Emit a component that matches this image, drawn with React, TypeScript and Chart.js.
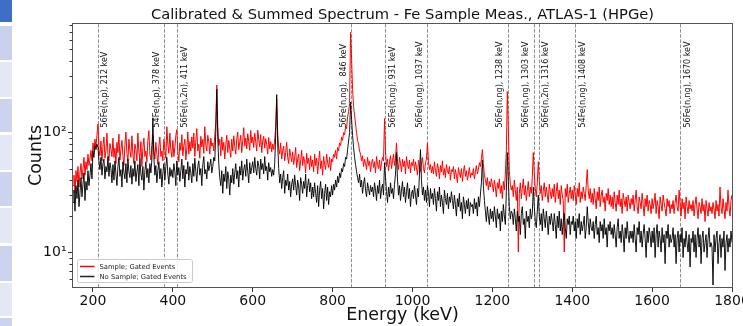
import React, { useEffect, useRef } from 'react';
import { Chart, registerables } from 'chart.js';

Chart.register(...registerables);

// ---- data (energy grid: 150 keV start, 2.5 keV per bin) ----
const START_KEV = 150;
const BIN_KEV = 2.5;

const sampleCounts = [
  36, 44, 31, 48, 39, 52, 35, 46, 55, 41,
  50, 62, 44, 57, 49, 66, 53, 60, 71, 58,
  82, 70, 88, 76, 95, 118, 72, 64, 85, 58,
  77, 92, 61, 70, 99, 66, 58, 81, 73, 63,
  90, 62, 74, 55, 83, 68, 97, 59, 72, 86,
  64, 53, 79, 101, 67, 58, 88, 71, 62, 94,
  66, 55, 80, 72, 58, 99, 68, 61, 84, 52,
  75, 90, 63, 70, 57, 86, 104, 66, 59, 78,
  95, 72, 60, 83, 66, 54, 77, 92, 63, 70,
  58, 88, 74, 61, 112, 80, 67, 99, 71, 62,
  86, 63, 75, 95, 106, 68, 57, 82, 71, 96,
  64, 78, 88, 59, 73, 101, 66, 84, 70, 92,
  74, 99, 63, 85, 108, 70, 80, 61, 93, 76,
  88, 67, 112, 79, 70, 95, 84, 66, 90, 77,
  82, 70, 96, 120, 250, 115, 78, 88, 64, 92,
  71, 83, 60, 79, 95, 68, 86, 73, 62, 88,
  70, 94, 77, 66, 89, 101, 72, 83, 95, 68,
  86, 110, 77, 90, 73, 98, 84, 71, 104, 82,
  92, 75, 99, 84, 70, 105, 88, 76, 96, 68,
  85, 93, 74, 89, 79, 66, 91, 73, 84, 69,
  80, 72, 88, 110, 190, 98, 74, 66, 82, 60,
  71, 77, 58, 68, 83, 62, 55, 73, 64, 57,
  69, 54, 62, 75, 51, 60, 66, 48, 58, 71,
  53, 63, 57, 46, 67, 55, 61, 49, 64, 52,
  59, 47, 66, 53, 61, 45, 57, 70, 50, 58,
  44, 63, 54, 49, 66, 56, 51, 62, 48, 60,
  57, 66, 62, 71, 60, 75, 70, 82, 78, 92,
  86, 100, 96, 112, 108, 135, 150, 175, 690, 420,
  230, 165, 140, 118, 100, 86, 80, 70, 66, 58,
  64, 52, 60, 55, 49, 62, 53, 58, 47, 56,
  60, 51, 57, 46, 63, 54, 50, 59, 48, 56,
  62, 58, 131, 70, 52, 60, 48, 57, 64, 50,
  58, 66, 53, 61, 82, 57, 49, 62, 55, 47,
  60, 52, 58, 45, 63, 54, 50, 59, 46, 56,
  53, 60, 48, 57, 51, 44, 59, 52, 47, 55,
  62, 50, 46, 56, 60, 82, 57, 49, 54, 46,
  52, 45, 57, 48, 43, 55, 50, 41, 53, 47,
  58, 44, 50, 42, 54, 48, 45, 52, 40, 49,
  47, 52, 41, 49, 44, 38, 51, 46, 42, 50,
  39, 47, 53, 43, 48, 40, 45, 51, 42, 46,
  44, 50, 41, 47, 53, 45, 49, 56, 52, 60,
  72, 55, 44, 40, 36, 42, 33, 39, 35, 41,
  37, 32, 40, 35, 29, 38, 34, 41, 31, 36,
  28, 39, 33, 45, 70, 220, 110, 48, 37, 33,
  36, 29, 40, 33, 27, 35, 10, 31, 38, 28,
  34, 41, 30, 36, 27, 33, 39, 29, 35, 31,
  42, 68, 45, 34, 29, 38, 57, 40, 31, 36,
  27, 33, 38, 29, 35, 30, 26, 37, 32, 28,
  34, 29, 37, 26, 32, 38, 28, 33, 25, 36,
  30, 27, 10, 34, 29, 37, 26, 31, 35, 28,
  33, 27, 36, 30, 25, 34, 29, 38, 26, 32,
  28, 35, 31, 27, 36, 49, 33, 28, 34, 26,
  31, 25, 34, 28, 23, 32, 27, 35, 24, 30,
  33, 26, 29, 22, 31, 27, 34, 25, 30, 24,
  29, 23, 32, 26, 22, 30, 25, 33, 24, 28,
  21, 31, 27, 24, 29, 22, 30, 26, 23, 28,
  25, 30, 22, 27, 33, 24, 21, 29, 26, 23,
  31, 25, 20, 28, 24, 30, 22, 27, 25, 21,
  28, 23, 26, 31, 21, 27, 24, 19, 29, 25,
  22, 30, 26, 23, 20, 28, 24, 27, 21, 25,
  23, 27, 21, 26, 30, 24, 22, 33, 25, 20,
  28, 23, 26, 19, 29, 24, 21, 27, 23, 25,
  22, 27, 20, 25, 29, 23, 19, 26, 24, 21,
  28, 22, 25, 18, 27, 23, 20, 26, 22, 24,
  21, 26, 23, 19, 27, 22, 25, 20, 35, 24,
  21, 28, 23, 19, 26, 22, 33, 24, 20, 27,
  30,
];

const noSampleCounts = [
  26, 33, 22, 36, 28, 40, 24, 31, 42, 29,
  37, 46, 27, 39, 33, 48, 36, 44, 55, 41,
  70, 62, 78, 72, 80, 75, 58, 49, 62, 44,
  55, 60, 41, 52, 47, 63, 43, 56, 50, 38,
  54, 40, 58, 45, 36, 52, 62, 43, 49, 35,
  57, 46, 41, 55, 38, 60, 47, 42, 53, 37,
  50, 43, 58, 39, 47, 54, 36, 61, 45, 40,
  52, 33, 48, 57, 42, 50, 38, 55, 46, 60,
  133, 62, 44, 53, 38, 48, 57, 41, 50, 35,
  46, 55, 40, 52, 62, 45, 37, 51, 43, 49,
  42, 55, 47, 36, 58, 44, 51, 39, 48, 60,
  41, 53, 35, 49, 45, 57, 40, 52, 46, 38,
  55, 43, 61, 47, 39, 52, 58, 44, 50, 36,
  54, 63, 45, 49, 41, 57, 48, 53, 60, 46,
  52, 62, 58, 100, 230, 90, 55, 42, 36, 48,
  31, 45, 39, 52, 34, 47, 41, 30, 44, 38,
  50, 37, 46, 55, 41, 48, 35, 52, 44, 58,
  40, 49, 54, 43, 60, 47, 38, 56, 45, 51,
  57, 46, 62, 50, 44, 58, 53, 41, 60, 49,
  55, 45, 63, 48, 52, 40, 56, 47, 51, 43,
  49, 44, 55, 95, 208, 80, 50, 38, 45, 34,
  42, 48, 31, 40, 36, 45, 33, 39, 29, 37,
  41, 33, 44, 36, 30, 40, 35, 27, 42, 37,
  31, 39, 34, 45, 29, 36, 41, 32, 38, 28,
  35, 29, 38, 31, 26, 36, 24, 33, 39, 28,
  34, 23, 31, 37, 27, 35, 25, 32, 29, 36,
  30, 37, 33, 40, 35, 43, 38, 46, 42, 50,
  47, 55, 52, 62, 60, 72, 85, 100, 180, 130,
  95, 75, 62, 54, 47, 42, 38, 45, 35, 40,
  31, 37, 42, 33, 29, 38, 34, 30, 36, 32,
  35, 29, 38, 33, 27, 36, 31, 40, 28, 34,
  37, 30, 56, 42, 32, 26, 35, 29, 38, 31,
  34, 28, 37, 45, 68, 40, 30, 36, 27, 33,
  39, 29, 35, 26, 32, 38, 28, 34, 24, 31,
  33, 28, 36, 30, 25, 34, 29, 45, 72, 40,
  30, 35, 27, 33, 26, 36, 31, 24, 34, 28,
  31, 25, 34, 28, 22, 32, 27, 35, 24, 30,
  26, 21, 33, 28, 25, 31, 23, 29, 26, 32,
  27, 23, 30, 25, 20, 28, 24, 31, 22, 26,
  19, 29, 25, 21, 27, 23, 28, 20, 26, 24,
  25, 21, 28, 23, 26, 20, 29, 24, 30, 38,
  59, 36, 27, 22, 18, 24, 20, 17, 23, 19,
  22, 18, 24, 20, 16, 23, 19, 21, 15, 22,
  18, 25, 20, 17, 32, 68, 40, 24, 19, 22,
  21, 17, 23, 19, 15, 22, 18, 20, 14, 21,
  24, 17, 19, 13, 22, 18, 20, 16, 23, 19,
  21, 35, 24, 18, 16, 22, 30, 20, 17, 21,
  15, 23, 19, 16, 22, 18, 14, 20, 17, 21,
  18, 15, 21, 17, 13, 20, 16, 22, 15, 19,
  14, 18, 21, 16, 13, 19, 17, 20, 14, 18,
  17, 20, 15, 18, 13, 19, 16, 21, 14, 18,
  15, 17, 20, 13, 16, 24, 18, 14, 19, 16,
  15, 18, 13, 17, 20, 14, 16, 12, 18, 15,
  17, 13, 19, 14, 16, 11, 17, 15, 18, 14,
  16, 13, 17, 14, 11, 16, 19, 13, 15, 12,
  17, 14, 10, 16, 13, 18, 14, 12, 15, 13,
  15, 12, 17, 13, 10, 16, 14, 18, 12, 15,
  11, 14, 17, 13, 9, 15, 12, 16, 14, 11,
  15, 12, 16, 9, 14, 17, 11, 15, 13, 10,
  16, 12, 14, 8, 15, 13, 17, 11, 14, 12,
  13, 16, 11, 14, 8, 13, 15, 10, 14, 12,
  16, 9, 13, 11, 15, 12, 10, 14, 7.5, 13,
  12, 15, 10, 14, 9, 13, 16, 11, 14, 8,
  13, 15, 10, 12, 14, 9, 13, 16, 11, 12,
  11, 5.3, 14, 10, 13, 15, 8, 12, 14, 9,
  13, 11, 15, 7, 12, 14, 10, 13, 11, 15,
  12,
];

const lineEnergies = [212, 378, 411, 846, 931, 1037, 1238, 1303, 1316, 1408, 1670];
const lineLabels = [
  '56Fe(n,p), 212 keV',
  '54Fe(n,p), 378 keV',
  '56Fe(n,2n), 411 keV',
  '56Fe(n,ng),  846 keV',
  '56Fe(n,ng), 931 keV',
  '56Fe(n,ng), 1037 keV',
  '56Fe(n,ng), 1238 keV',
  '56Fe(n,ng), 1303 keV',
  '56Fe(n,2n), 1316 keV',
  '54Fe(n,ng), 1408 keV',
  '56Fe(n,ng), 1670 keV',
];
const labelSides = [1, -1, 1, -1, 1, -1, -1, -1, 1, 1, 1];

const xTickValues = [200, 400, 600, 800, 1000, 1200, 1400, 1600, 1800];
const yMajorTicks = [10, 100];
const yMajorLabels = ['10\u00b9', '10\u00b2'];
const yMinorTicks = [6, 7, 8, 9, 20, 30, 40, 50, 60, 70, 80, 90, 200, 300, 400, 500, 600, 700, 800];

const seriesNames = ['Sample; Gated Events', 'No Sample; Gated Events'];
const TITLE = 'Calibrated & Summed Spectrum - Fe Sample Meas., ATLAS-1 (HPGe)';

const FONT = "'DejaVu Sans', sans-serif";
const RED = '#ff0000';
const BLACK = 'rgba(0,0,0,0.92)';

const toPoints = (arr: number[]) => arr.map((v, i) => ({ x: START_KEV + BIN_KEV * i, y: v }));

const decorPlugin = {
  id: 'decor',
  beforeDatasetsDraw(chart: any) {
    const { ctx, chartArea, scales } = chart;
    const { top, bottom } = chartArea;
    ctx.save();
    ctx.strokeStyle = '#8f8f8f';
    ctx.lineWidth = 1;
    ctx.setLineDash([3.5, 1.6]);
    lineEnergies.forEach((e) => {
      const px = Math.round(scales.x.getPixelForValue(e)) + 0.5;
      ctx.beginPath();
      ctx.moveTo(px, top);
      ctx.lineTo(px, bottom);
      ctx.stroke();
    });
    ctx.restore();
  },
  afterDatasetsDraw(chart: any) {
    const { ctx, chartArea, scales } = chart;
    const { left, right, top, bottom } = chartArea;
    ctx.save();
    // rotated line labels
    ctx.font = `8px ${FONT}`;
    ctx.fillStyle = '#111';
    ctx.textAlign = 'left';
    ctx.textBaseline = 'middle';
    lineEnergies.forEach((e, i) => {
      const px = scales.x.getPixelForValue(e) + labelSides[i] * 7.5;
      ctx.save();
      ctx.translate(px, 127.5);
      ctx.rotate(-Math.PI / 2);
      ctx.fillText(lineLabels[i], 0, 0);
      ctx.restore();
    });
    // frame
    ctx.strokeStyle = '#555';
    ctx.lineWidth = 1;
    ctx.setLineDash([]);
    const l = Math.round(left) - 0.5;
    const r = Math.round(right) + 0.5;
    const t = Math.round(top) - 0.5;
    const b = Math.round(bottom) + 0.5;
    ctx.strokeRect(l, t, r - l, b - t);
    // minor y ticks
    ctx.strokeStyle = '#333';
    yMinorTicks.forEach((v) => {
      const py = Math.round(scales.y.getPixelForValue(v)) + 0.5;
      if (py < top || py > bottom) return;
      ctx.beginPath();
      ctx.moveTo(l, py);
      ctx.lineTo(l - 3, py);
      ctx.stroke();
    });
    // legend
    const bx = left + 4.5;
    const by = bottom - 27.5;
    const bw = 115;
    const bh = 23;
    ctx.fillStyle = 'rgba(255,255,255,0.85)';
    ctx.strokeStyle = '#cccccc';
    ctx.beginPath();
    ctx.roundRect(bx, by, bw, bh, 2);
    ctx.fill();
    ctx.stroke();
    const colors = [RED, '#222'];
    ctx.font = `6.8px ${FONT}`;
    ctx.textBaseline = 'middle';
    ctx.textAlign = 'left';
    seriesNames.forEach((name, i) => {
      const y = by + 7 + i * 10;
      ctx.strokeStyle = colors[i];
      ctx.lineWidth = 1.5;
      ctx.beginPath();
      ctx.moveTo(bx + 2.5, y);
      ctx.lineTo(bx + 17, y);
      ctx.stroke();
      ctx.fillStyle = '#222';
      ctx.fillText(name, bx + 22, y + 0.5);
    });
    ctx.restore();
  },
};

const stripBoxes: [number, number, string][] = [
  [0, 22, '#3f6ec6'],
  [26, 34, '#c9d1ec'],
  [62, 35, '#e4e8f6'],
  [99, 33, '#ccd3ee'],
  [135, 35, '#e4e8f6'],
  [172, 34, '#ccd3ee'],
  [208, 35, '#e4e8f6'],
  [246, 35, '#ccd3ee'],
  [283, 33, '#e4e8f6'],
  [318, 8, '#ccd3ee'],
];

export default function App() {
  const canvasRef = useRef<HTMLCanvasElement | null>(null);

  useEffect(() => {
    const canvas = canvasRef.current;
    if (!canvas) return;
    const chart = new Chart(canvas, {
      type: 'line',
      data: {
        datasets: [
          {
            label: seriesNames[0],
            data: toPoints(sampleCounts),
            borderColor: RED,
            borderWidth: 1,
            pointRadius: 0,
            tension: 0,
            order: 1,
          },
          {
            label: seriesNames[1],
            data: toPoints(noSampleCounts),
            borderColor: BLACK,
            borderWidth: 1,
            pointRadius: 0,
            tension: 0,
            order: 0,
          },
        ],
      },
      options: {
        responsive: false,
        animation: false,
        devicePixelRatio: 1,
        parsing: false,
        normalized: true,
        layout: { padding: { left: 0, right: 11, top: 0, bottom: 0 } },
        plugins: {
          legend: { display: false },
          tooltip: { enabled: false },
          title: {
            display: true,
            text: TITLE,
            fullSize: false,
            color: '#111',
            font: { family: FONT, size: 14.7, weight: 'normal' },
            padding: { top: 6.4, bottom: 0 },
          },
        },
        scales: {
          x: {
            type: 'linear',
            min: 150,
            max: 1800,
            afterBuildTicks: (s: any) => {
              s.ticks = xTickValues.map((v) => ({ value: v }));
            },
            afterFit: (s: any) => {
              s.height = 39;
              s.paddingLeft = 0;
              s.paddingRight = 0;
            },
            ticks: {
              autoSkip: false,
              maxRotation: 0,
              padding: 1,
              color: '#111',
              font: { family: FONT, size: 14 },
              callback: (v: any) => String(v),
            },
            grid: { drawOnChartArea: false, drawTicks: true, tickLength: 5, color: '#333', lineWidth: 1 },
            border: { display: false },
            title: {
              display: true,
              text: 'Energy (keV)',
              color: '#111',
              font: { family: FONT, size: 17.5 },
              padding: { top: 0, bottom: 0 },
            },
          },
          y: {
            type: 'logarithmic',
            min: 5.1,
            max: 810,
            afterBuildTicks: (s: any) => {
              s.ticks = yMajorTicks.map((v) => ({ value: v }));
            },
            afterFit: (s: any) => {
              s.width = 73;
              s.paddingTop = 0;
              s.paddingBottom = 0;
            },
            ticks: {
              padding: 1.5,
              color: '#111',
              font: { family: FONT, size: 14 },
              callback: (v: any) => {
                const idx = yMajorTicks.indexOf(Number(v));
                return idx >= 0 ? yMajorLabels[idx] : '';
              },
            },
            grid: { drawOnChartArea: false, drawTicks: true, tickLength: 5, color: '#333', lineWidth: 1 },
            border: { display: false },
            title: {
              display: true,
              text: 'Counts',
              color: '#111',
              font: { family: FONT, size: 17.5 },
              padding: { top: 26, bottom: 0 },
            },
          },
        },
      },
      plugins: [decorPlugin],
    } as any);
    return () => chart.destroy();
  }, []);

  return (
    <div style={{ position: 'fixed', left: 0, top: 0, width: 743, height: 326, background: '#fff', overflow: 'hidden' }}>
      <canvas ref={canvasRef} width={743} height={326} style={{ display: 'block', position: 'absolute', left: 0, top: 0 }} />
      {stripBoxes.map(([t, h, c], i) => (
        <div key={i} style={{ position: 'absolute', left: 0, top: t, width: 12, height: h, background: c }} />
      ))}
    </div>
  );
}
